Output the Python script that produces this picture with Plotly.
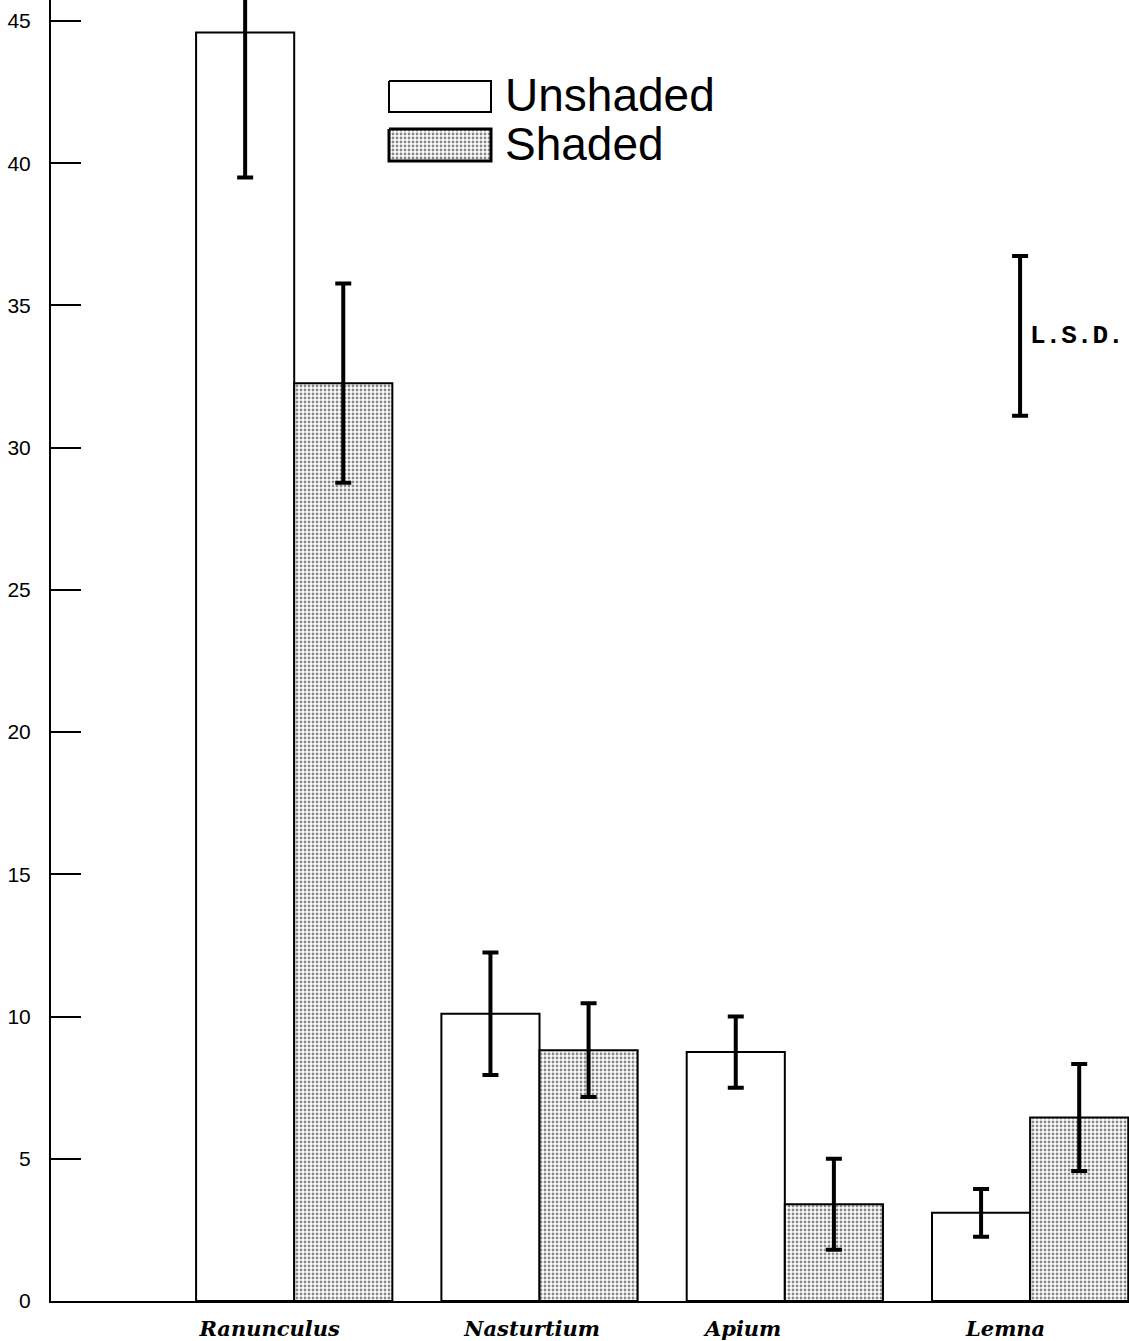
import plotly.graph_objects as go

categories = ["Ranunculus", "Nasturtium", "Apium", "Lemna"]
unshaded = [44.6, 10.1, 8.75, 3.1]
unshaded_err = [5.1, 2.15, 1.25, 0.84]
shaded = [32.27, 8.82, 3.4, 6.45]
shaded_err = [3.5, 1.65, 1.6, 1.88]
lsd_center = 33.93
lsd_half = 2.81
y_ticks = [0, 5, 10, 15, 20, 25, 30, 35, 40, 45]

xpos = list(range(1, len(categories) + 1))
label_offsets = [-0.1, -0.03, -0.17, -0.1]

pattern = dict(shape=".", fgcolor="#111111", bgcolor="white", size=4, solidity=0.4)

fig = go.Figure()

fig.add_trace(go.Bar(
    x=xpos, y=unshaded, name="Unshaded",
    marker=dict(color="white", line=dict(color="black", width=2)),
    error_y=dict(type="data", array=unshaded_err, color="black", thickness=4, width=8),
    showlegend=False,
))
fig.add_trace(go.Bar(
    x=xpos, y=shaded, name="Shaded",
    marker=dict(color="white", line=dict(color="black", width=2), pattern=pattern),
    error_y=dict(type="data", array=shaded_err, color="black", thickness=4, width=8),
    showlegend=False,
))

# L.S.D. indicator
fig.add_trace(go.Scatter(
    x=[3.959], y=[lsd_center], mode="markers",
    marker=dict(size=1, color="rgba(0,0,0,0)"),
    error_y=dict(type="data", array=[lsd_half], color="black", thickness=4, width=8),
    showlegend=False, hoverinfo="skip",
))
fig.add_annotation(x=3.99, y=lsd_center, xref="x", yref="y", text="<b>L.S.D.</b>",
                   showarrow=False, xanchor="left", yanchor="middle",
                   font=dict(family="Liberation Mono, Courier New, monospace", size=26, color="black"))

# Custom legend on an overlay pixel axis
fig.add_trace(go.Scatter(
    x=[389, 491, 491, 389, 389], y=[81, 81, 112, 112, 81], xaxis="x2", yaxis="y2",
    mode="lines", fill="toself", fillcolor="white", line=dict(color="black", width=2),
    showlegend=False, hoverinfo="skip",
))
fig.add_trace(go.Scatter(
    x=[389, 491, 491, 389, 389], y=[129, 129, 161, 161, 129], xaxis="x2", yaxis="y2",
    mode="lines", fill="toself", fillpattern=pattern,
    line=dict(color="black", width=3),
    showlegend=False, hoverinfo="skip",
))
legend_font = dict(family="Liberation Sans, Arial, sans-serif", size=46, color="black")
fig.add_annotation(x=503, y=95, xref="x2", yref="y2", text="Unshaded", showarrow=False,
                   xanchor="left", yanchor="middle", font=legend_font)
fig.add_annotation(x=503, y=144, xref="x2", yref="y2", text="Shaded", showarrow=False,
                   xanchor="left", yanchor="middle", font=legend_font)

fig.update_layout(
    width=1129, height=1341,
    margin=dict(l=51, r=0, t=0, b=40),
    paper_bgcolor="white", plot_bgcolor="white",
    barmode="group", bargap=0.2, bargroupgap=0,
    xaxis=dict(
        range=[0.0086, 4.403],
        tickvals=[p + o for p, o in zip(xpos, label_offsets)],
        ticktext=[f"<b><i>{c}</i></b>" for c in categories],
        tickfont=dict(family="DejaVu Serif, serif", size=21, color="black"),
        showgrid=False, zeroline=False, showline=True, linecolor="black", linewidth=2,
        ticks="", ticklabelstandoff=8,
    ),
    yaxis=dict(
        range=[0, 45.74], tickvals=y_ticks,
        tickfont=dict(family="Liberation Sans, Arial, sans-serif", size=21, color="black"),
        showgrid=False, zeroline=False, showline=True, linecolor="black", linewidth=2,
        ticks="inside", ticklen=30, tickwidth=2, tickcolor="black", ticklabelstandoff=14,
    ),
    xaxis2=dict(overlaying="x", range=[51, 1129], visible=False, fixedrange=True),
    yaxis2=dict(overlaying="y", range=[1301, 0], visible=False, fixedrange=True),
)

fig.write_html("out.html")
